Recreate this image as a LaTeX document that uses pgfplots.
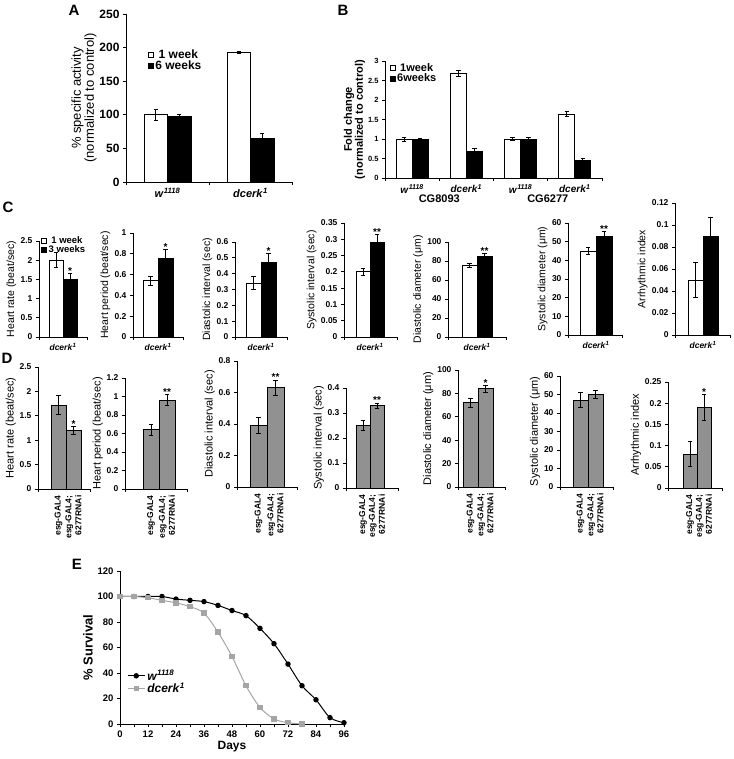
\documentclass[border=0pt]{standalone}
\usepackage{fontspec}
\setmainfont{Liberation Sans}
\usepackage{pgfplots}
\pgfplotsset{compat=1.18}
\definecolor{dgray}{RGB}{145,145,145}
\definecolor{lgray}{RGB}{165,165,165}
\newcommand{\wt}{\textit{w}\textsuperscript{\textit{1118}}}
\newcommand{\dc}{\textit{dcerk}\textsuperscript{\textit{1}}}
\newcommand{\fs}[1]{\fontsize{#1}{#1}\selectfont}
\tikzset{sig/.style={font=\bfseries\fs{10}, inner sep=0pt, anchor=base, yshift=-1pt}}
\pgfplotsset{
 base/.style={
   scale only axis, axis lines*=left, clip=false, anchor=south west,
   axis line style={line width=0.8pt},
   every tick/.style={black, line width=0.7pt},
   tick align=outside, major tick length=3pt, minor tick length=3pt,
   ymin=0, scaled y ticks=false,
   /pgf/number format/assume math mode=true,
   yticklabel style={/pgf/number format/fixed, /pgf/number format/precision=3},
   extra x tick style={tick style={draw=none}},
 },
 barbase/.style={ybar, bar shift=0pt, draw=black, line width=0.8pt,
   error bars/y dir=both, error bars/y explicit,
   error bars/error bar style={line width=0.8pt, black, solid},
   error bars/error mark options={rotate=90, mark size=2.2pt, line width=0.8pt, black}},
 wbar/.style={barbase, fill=white, legend image code/.code={\draw[black, fill=white, line width=0.4pt] (0pt,-2.6pt) rectangle (5.2pt,2.6pt);}},
 bbar/.style={barbase, fill=black, legend image code/.code={\draw[black, fill=black, line width=0.4pt] (0pt,-2.6pt) rectangle (5.2pt,2.6pt);}},
 gbar/.style={barbase, fill=dgray},
 cpan/.style={base, bar width=14pt, xticklabels={}, extra x ticks={0}, extra x tick labels={\dc},
   tick label style={font=\bfseries\fs{8.5}}, ylabel style={font=\fs{10.5}, yshift=-2.5pt},
   extra x tick style={tick label style={font=\bfseries\fs{8.5}}}},
 dpan/.style={base, bar width=15pt, xticklabels={}, extra x ticks={-7.5,7.5},
   extra x tick labels={esg-GAL4,{esg-GAL4;\\6277RNAi}},
   tick label style={font=\bfseries\fs{8.5}}, ylabel style={font=\fs{11}, yshift=-3pt},
   extra x tick style={tick label style={font=\bfseries\fontsize{8.5}{10}\selectfont, rotate=90, anchor=east, align=right}}},
}
\begin{document}
\begin{tikzpicture}
\path[use as bounding box] (0,0) rectangle (733pt,759pt);
% panel letters
\node[font=\bfseries\fs{15}] at (74pt,749pt) {A};
\node[font=\bfseries\fs{15}] at (343pt,749pt) {B};
\node[font=\bfseries\fs{15}] at (8pt,552pt) {C};
\node[font=\bfseries\fs{15}] at (7pt,401pt) {D};
\node[font=\bfseries\fs{15}] at (77pt,195pt) {E};

% ---------------- A
\begin{axis}[base, at={(126pt,577pt)}, width=166pt, height=168pt,
  xmin=-0.5, xmax=1.5, ymax=250, ytick distance=50,
  xtick={-0.5,0.5,1.5}, xticklabels={}, extra x ticks={0,1}, extra x tick labels={\wt,\dc},
  bar width=23.5pt, tick label style={font=\bfseries\fs{12}},
  extra x tick style={tick label style={font=\bfseries\fs{11}}},
  ylabel={\% specific activity\\(normalized to control)}, ylabel style={font=\fs{13}, align=center, yshift=-4pt},
  legend style={draw=none, fill=none, at={(rel axis cs:0.13,0.80)}, anchor=north west, font=\bfseries\fs{12}, row sep=-3pt, inner sep=0pt}]
\addplot[wbar] coordinates {(-0.1416,100) +- (0,8) (0.8584,193) +- (0,2)};
\addplot[bbar] coordinates {(0.1416,98) +- (0,2) (1.1416,65) +- (0,7)};
\legend{1 week,6 weeks}
\end{axis}

% ---------------- B
\begin{axis}[base, at={(385pt,581pt)}, width=217pt, height=117pt,
  xmin=-0.5, xmax=3.5, ymax=3, ytick distance=0.5,
  xtick={-0.5,0.5,1.5,2.5,3.5}, xticklabels={}, extra x ticks={0,1,2,3}, extra x tick labels={\wt,\dc,\wt,\dc},
  bar width=16pt, tick label style={font=\bfseries\fs{7.5}},
  extra x tick style={tick label style={font=\bfseries\fs{10}}},
  ylabel={Fold change\\(normalized to control)}, ylabel style={font=\bfseries\fs{11}, align=center, yshift=-4pt},
  legend style={draw=none, fill=none, at={(rel axis cs:0.02,1.0)}, anchor=north west, font=\bfseries\fs{11}, row sep=-3pt, inner sep=0pt}]
\addplot[wbar] coordinates {(-0.1475,1.0) +- (0,0.05) (0.8525,2.68) +- (0,0.08) (1.8525,1.0) +- (0,0.03) (2.8525,1.64) +- (0,0.07)};
\addplot[bbar] coordinates {(0.1475,0.99) +- (0,0.03) (1.1475,0.68) +- (0,0.09) (2.1475,0.99) +- (0,0.05) (3.1475,0.46) +- (0,0.05)};
\legend{1week,6weeks}
\node[font=\bfseries\fs{11}] at (axis cs:0.5,-0.54) {CG8093};
\node[font=\bfseries\fs{11}] at (axis cs:2.5,-0.54) {CG6277};
\end{axis}

% ---------------- C panels
\begin{axis}[cpan, at={(39pt,422pt)}, width=48pt, height=96pt, xmin=-24, xmax=24, xtick={-24,24},
  ymax=2.5, ytick distance=0.5, ylabel={Heart rate (beat/sec)},
  legend style={draw=none, fill=none, at={(rel axis cs:0.04,1.07)}, anchor=north west, font=\bfseries\fs{9.5}, row sep=-3pt, inner sep=0pt}]
\addplot[wbar] coordinates {(-7,2.0) +- (0,0.2)};
\addplot[bbar] coordinates {(7,1.5) +- (0,0.15)};
\legend{1 week,3 weeks}
\node[sig] at (axis cs:7,1.65) {*};
\end{axis}

\begin{axis}[cpan, at={(133pt,422pt)}, width=50pt, height=104pt, xmin=-25, xmax=25, xtick={-25,25},
  ymax=1, ytick distance=0.2, ylabel={Heart period (beat/sec)}, bar width=15pt]
\addplot[wbar] coordinates {(-7.5,0.54) +- (0,0.04)};
\addplot[bbar] coordinates {(7.5,0.76) +- (0,0.08)};
\node[sig] at (axis cs:7.5,0.84) {*};
\end{axis}

\begin{axis}[cpan, at={(235pt,422pt)}, width=52pt, height=95pt, xmin=-26, xmax=26, xtick={-26,26},
  ymax=0.6, ytick distance=0.1, ylabel={Diastolic interval (sec)}, bar width=15pt]
\addplot[wbar] coordinates {(-7.5,0.34) +- (0,0.04)};
\addplot[bbar] coordinates {(7.5,0.47) +- (0,0.06)};
\node[sig] at (axis cs:7.5,0.53) {*};
\end{axis}

\begin{axis}[cpan, at={(344pt,422pt)}, width=53pt, height=114pt, xmin=-26, xmax=27, xtick={-26,27},
  ymax=0.35, ytick distance=0.05, ylabel={Systolic interval (sec)}]
\addplot[wbar] coordinates {(-7,0.20) +- (0,0.01)};
\addplot[bbar] coordinates {(7,0.29) +- (0,0.025)};
\node[sig] at (axis cs:7,0.315) {**};
\end{axis}

\begin{axis}[cpan, at={(448pt,422pt)}, width=58pt, height=95pt, xmin=-29, xmax=29, xtick={-29,29},
  ymax=100, ytick distance=20, ylabel={Diastolic diameter (μm)}, bar width=15pt]
\addplot[wbar] coordinates {(-7.5,75) +- (0,2)};
\addplot[bbar] coordinates {(7.5,85) +- (0,3)};
\node[sig] at (axis cs:7.5,88) {**};
\end{axis}

\begin{axis}[cpan, at={(568pt,424pt)}, width=54pt, height=112pt, xmin=-28, xmax=26, xtick={-28,26},
  ymax=60, ytick distance=10, ylabel={Systolic diameter (μm)}, bar width=16pt]
\addplot[wbar] coordinates {(-8,45) +- (0,2)};
\addplot[bbar] coordinates {(8,53) +- (0,2.5)};
\node[sig] at (axis cs:8,55.5) {**};
\end{axis}

\begin{axis}[cpan, at={(675pt,424pt)}, width=55pt, height=132pt, xmin=-28, xmax=27, xtick={-28,27},
  ymax=0.12, ytick distance=0.02, ylabel={Arrhythmic index}, bar width=15pt]
\addplot[wbar] coordinates {(-7.5,0.05) +- (0,0.016)};
\addplot[bbar] coordinates {(7.5,0.09) +- (0,0.017)};
\end{axis}

% ---------------- D panels
\begin{axis}[dpan, at={(38pt,270pt)}, width=52pt, height=122pt, xmin=-28, xmax=24, xtick={-28,24},
  ymax=2.5, ytick distance=0.5, ylabel={Heart rate (beat/sec)}]
\addplot[gbar] coordinates {(-7.5,1.72) +- (0,0.2)};
\addplot[gbar] coordinates {(7.5,1.2) +- (0,0.08)};
\node[sig] at (axis cs:7.5,1.28) {*};
\end{axis}

\begin{axis}[dpan, at={(125pt,270pt)}, width=62pt, height=111pt, xmin=-34, xmax=28, xtick={-34,28},
  ymax=1.2, ytick distance=0.2, ylabel={Heart period (beat/sec)}, bar width=16pt,
  extra x ticks={-8,8}]
\addplot[gbar] coordinates {(-8,0.64) +- (0,0.06)};
\addplot[gbar] coordinates {(8,0.96) +- (0,0.06)};
\node[sig] at (axis cs:8,1.02) {**};
\end{axis}

\begin{axis}[dpan, at={(237pt,272pt)}, width=60pt, height=126pt, xmin=-30, xmax=30, xtick={-30,30},
  ymax=0.8, ytick distance=0.2, ylabel={Diastolic interval (sec)}, bar width=17pt,
  extra x ticks={-8.5,8.5}]
\addplot[gbar] coordinates {(-8.5,0.39) +- (0,0.05)};
\addplot[gbar] coordinates {(8.5,0.63) +- (0,0.05)};
\node[sig] at (axis cs:8.5,0.68) {**};
\end{axis}

\begin{axis}[dpan, at={(346pt,271pt)}, width=52pt, height=100pt, xmin=-24, xmax=28, xtick={-24,28},
  ymax=0.4, ytick distance=0.1, ylabel={Systolic interval (sec)}, bar width=14pt,
  extra x ticks={-7,7}]
\addplot[gbar] coordinates {(-7,0.25) +- (0,0.02)};
\addplot[gbar] coordinates {(7,0.33) +- (0,0.01)};
\node[sig] at (axis cs:7,0.34) {**};
\end{axis}

\begin{axis}[dpan, at={(458pt,272pt)}, width=47pt, height=117pt, xmin=-20, xmax=27, xtick={-20,27},
  ymax=100, ytick distance=20, ylabel={Diastolic diameter (μm)}]
\addplot[gbar] coordinates {(-7.5,72) +- (0,4)};
\addplot[gbar] coordinates {(7.5,84) +- (0,3)};
\node[sig] at (axis cs:7.5,87) {*};
\end{axis}

\begin{axis}[dpan, at={(560pt,272pt)}, width=53pt, height=111pt, xmin=-28, xmax=25, xtick={-28,25},
  ymax=60, ytick distance=10, ylabel={Systolic diameter (μm)}]
\addplot[gbar] coordinates {(-7.5,47) +- (0,4)};
\addplot[gbar] coordinates {(7.5,50) +- (0,2)};
\end{axis}

\begin{axis}[dpan, at={(668pt,271pt)}, width=54pt, height=106pt, xmin=-29, xmax=25, xtick={-29,25},
  ymax=0.25, ytick distance=0.05, ylabel={Arrhythmic index}, bar width=14pt,
  extra x ticks={-7,7}]
\addplot[gbar] coordinates {(-7,0.08) +- (0,0.03)};
\addplot[gbar] coordinates {(7,0.19) +- (0,0.03)};
\node[sig] at (axis cs:7,0.22) {*};
\end{axis}

% ---------------- E
\begin{axis}[base, at={(120pt,35pt)}, width=224pt, height=153pt,
  xmin=0, xmax=96, ymax=120, xtick={0,12,...,96}, minor x tick num=1, ytick distance=20,
  tick label style={font=\bfseries\fs{9.5}},
  xlabel={Days}, xlabel style={font=\bfseries\fs{12}, yshift=3pt},
  ylabel={\% Survival}, ylabel style={font=\bfseries\fs{13}, yshift=-2pt},
  legend style={draw=none, fill=none, at={(axis cs:3,44)}, anchor=north west, font=\bfseries\fs{12}, row sep=-3pt, inner sep=0pt},
  legend cell align=left]
\addplot[black, line width=1pt, smooth, mark=*, mark size=2.2pt] coordinates {
(0,100) (6,100) (12,100) (18,100) (24,98) (30,97) (36,96) (42,93) (48,89) (54,85) (60,75) (66,63) (72,47) (78,30) (84,19) (90,5) (96,1)};
\addplot[lgray, line width=1pt, smooth, mark=square*, mark size=2.2pt] coordinates {
(0,100) (6,100) (12,99) (18,97) (24,95) (30,92) (36,87) (42,72) (48,53) (54,30) (60,13) (66,4) (72,1) (78,0)};
\legend{\wt,\dc}
\end{axis}
\end{tikzpicture}
\end{document}
